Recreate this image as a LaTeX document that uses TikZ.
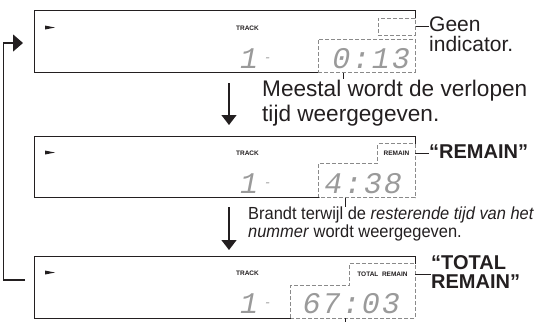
\documentclass[tikz,border=0pt]{standalone}
\usepackage{fontspec}
\setmainfont{Liberation Sans}
\newfontfamily\lcdfont[LetterSpace=6]{Liberation Mono}
\newfontfamily\narrowfont[FakeStretch=0.94]{Liberation Sans}
\usepackage{xcolor}
\usetikzlibrary{arrows.meta,positioning}
\definecolor{ink}{HTML}{231F20}
\definecolor{zonegray}{HTML}{8A8A8A}
\definecolor{seggray}{HTML}{9A9A9A}
\tikzset{
  lcd/.style={draw=none, minimum width=380pt, minimum height=61pt, inner sep=0pt},
  bezel/.style={draw=ink, line width=1.2pt},
  zone/.style={draw=zonegray, dash pattern=on 4pt off 2pt, line width=1pt},
  slot/.style={inner sep=0pt},
  tag/.style={inner sep=0pt, font=\bfseries\fontsize{6.5}{7}\selectfont, text=ink},
  digits/.style={inner sep=0pt, anchor=base east, text=seggray, font=\lcdfont\itshape\fontsize{30}{30}\selectfont},
  flow/.style={-{Triangle[length=10pt,width=15pt]}, line width=1.3pt, draw=ink},
  lead/.style={draw=ink, line width=0.8pt},
  note/.style={inner sep=0pt, anchor=north west, align=left, text=ink},
  callout/.style={inner sep=0pt, anchor=west, align=left, text=ink, font=\bfseries\fontsize{20}{19.5}\selectfont},
}
\begin{document}
\begin{tikzpicture}[x=1pt, y=-1pt]
  \useasboundingbox (0,0) rectangle (537,322);

  % three display panels
  \node[lcd] (lcd1) at (225,41.5) {};
  \node[lcd] (lcd2) at (225,167) {};
  \node[lcd] (lcd3) at (225,287.5) {};

  % panel 1: no indicator
  \node[slot, zone, minimum width=37pt, minimum height=17pt] (ind1) at (396.5,26.5) {};
  \node[slot, zone, minimum width=97pt, minimum height=33pt] (time1) at (366.5,55.5) {};
  \draw[bezel] (ind1.north east) |- (lcd1.north west) |- (time1.south west);

  % panel 2: REMAIN
  \node[tag, minimum width=37pt, minimum height=19pt] (rem2) at (396.5,153.5) {REMAIN};
  \node[slot, minimum width=96pt, minimum height=34.5pt] (time2) at (367,180.25) {};
  \draw[zone] (time2.south west) |- (rem2.south west) |- (rem2.north east) |- (time2.south east) -- cycle;
  \draw[bezel] (rem2.north east) |- (lcd2.north west) |- (time2.south west);

  % panel 3: TOTAL REMAIN
  \node[tag, minimum width=65pt, minimum height=21pt] (tot3) at (382.5,274.5) {TOTAL\ \ REMAIN};
  \node[slot, minimum width=124pt, minimum height=33pt] (time3) at (353,301.5) {};
  \draw[zone] (time3.south west) |- (tot3.south west) |- (tot3.north east) |- (time3.south east) -- cycle;
  \draw[bezel] (tot3.north east) |- (lcd3.north west) |- (time3.south west);

  \foreach \i/\dy in {1/0,2/125,3/245} {
    \fill[ink] (45,{25.5+\dy}) -- (55,{27.5+\dy}) -- (45,{29.5+\dy}) -- cycle;
    \node[tag] (track\i) at (247.5,{28+\dy}) {TRACK};
    \node[digits, anchor=base west] (trk\i) at (240,{68+\dy}) {1\hspace{6pt}\raisebox{7pt}{\fontsize{12}{12}\selectfont -}};
  }

  \node[digits] (clk1) at (410,68) {0:13};
  \node[digits] (clk2) at (402,193) {4:38};
  \node[digits] (clk3) at (400,313) {67:03};

  % captions
  \node[note, font=\fontsize{21}{20}\selectfont] (geen) at (429,17) {Geen\\indicator.};
  \node[note, font=\fontsize{22.6}{25}\selectfont] (meestal) at (262,80) {Meestal wordt de verlopen\\tijd weergegeven.};
  \node[note, font=\narrowfont\fontsize{17.5}{17.5}\selectfont] (brandt) at (248,207) {Brandt terwijl de \textit{resterende tijd van het}\\\textit{nummer} wordt weergegeven.};
  \node[callout] (remlbl) at (429,152) {“REMAIN”};
  \node[callout] (totlbl) at (431,272) {“TOTAL\\REMAIN”};

  \draw[lead] (ind1.east) -- (ind1.east -| geen.west);
  \draw[lead] (rem2.east) -- (rem2.east -| remlbl.west);
  \draw[lead] (tot3.east) -- (tot3.east -| totlbl.west);

  \coordinate (tick1) at (343,79);
  \coordinate (tick2) at (345,207);
  \coordinate (tick3) at (345,322);
  \draw[lead] (tick1 |- time1.south) -- (tick1);
  \draw[lead] (tick2 |- time2.south) -- (tick2);
  \draw[lead] (tick3 |- time3.south) -- (tick3);

  % step arrows and loop back
  \coordinate (dn1a) at (229,83);
  \coordinate (dn1b) at (229,125);
  \coordinate (dn2a) at (229,207);
  \coordinate (dn2b) at (229,250);
  \draw[flow] (dn1a) -- (dn1b);
  \draw[flow] (dn2a) -- (dn2b);

  \coordinate (back0) at (25,280);
  \coordinate (back1) at (3.5,160);
  \coordinate (back2) at (23,43);
  \draw[flow, -{Triangle[length=10pt,width=17pt]}] (back0) -| (back1) |- (back2);
\end{tikzpicture}
\end{document}
